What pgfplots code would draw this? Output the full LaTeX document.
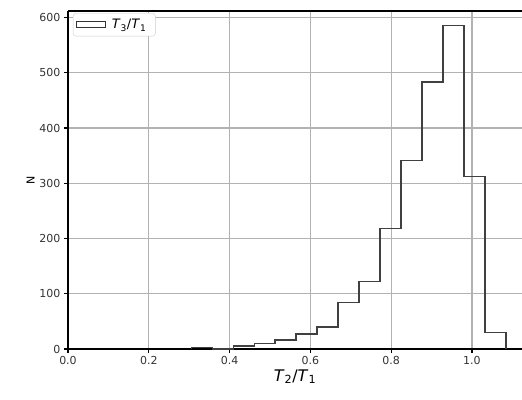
\documentclass[border=0pt]{standalone}
\usepackage{fontspec}
\setmainfont{DejaVu Sans}
\usepackage{pgfplots}
\pgfplotsset{compat=1.18}
\begin{document}
\begin{tikzpicture}
\path[use as bounding box] (-68pt,-50pt) rectangle (454pt,349pt);
\begin{axis}[
  scale only axis,
  width=454pt, height=338pt,
  xmin=0, xmax=1.124, ymin=0, ymax=612,
  axis x line*=box, axis y line*=left,
  axis line style={black, line width=1.6pt, -},
  xtick={0,0.2,0.4,0.6,0.8,1.0},
  ytick={0,100,200,300,400,500,600},
  xticklabels={0.0,0.2,0.4,0.6,0.8,1.0},
  tick pos=left,
  tick align=outside,
  major tick length=4pt,
  tick style={black, line width=1.2pt},
  grid=major,
  grid style={black!30, line width=1.2pt},
  ticklabel style={font=\fontsize{11}{13}\selectfont, text=black!80},
  /pgf/number format/assume math mode=true,
  xlabel={\fontsize{16}{18}\selectfont\textit{T}\textsubscript{2}/\textit{T}\textsubscript{1}},
  ylabel={\fontsize{11}{13}\selectfont N},
  xlabel style={yshift=2pt},
  ylabel style={yshift=-2pt},
  legend style={at={(0.011,0.994)}, anchor=north west, draw=black!20, rounded corners=3pt,
    font=\fontsize{13}{15}\selectfont, inner xsep=3pt, inner ysep=4pt, cells={anchor=west},
    nodes={inner xsep=6pt}},
  legend image code/.code={\draw[sharp corners, black!80, line width=1.2pt] (0cm,-0.1cm) rectangle (1.0cm,0.1cm);},
]
\addplot[const plot, sharp corners, black!75, line width=1.6pt] coordinates {
(0.306,0) (0.306,3) (0.358,0) (0.410,5) (0.462,10) (0.513,16) (0.565,27)
(0.617,40) (0.669,84) (0.721,122) (0.773,218) (0.825,341) (0.877,483)
(0.928,586) (0.980,312) (1.032,30) (1.084,30) (1.084,0)
};
\addlegendentry{\textit{T}\textsubscript{3}/\textit{T}\textsubscript{1}}
\end{axis}
\end{tikzpicture}
\end{document}
